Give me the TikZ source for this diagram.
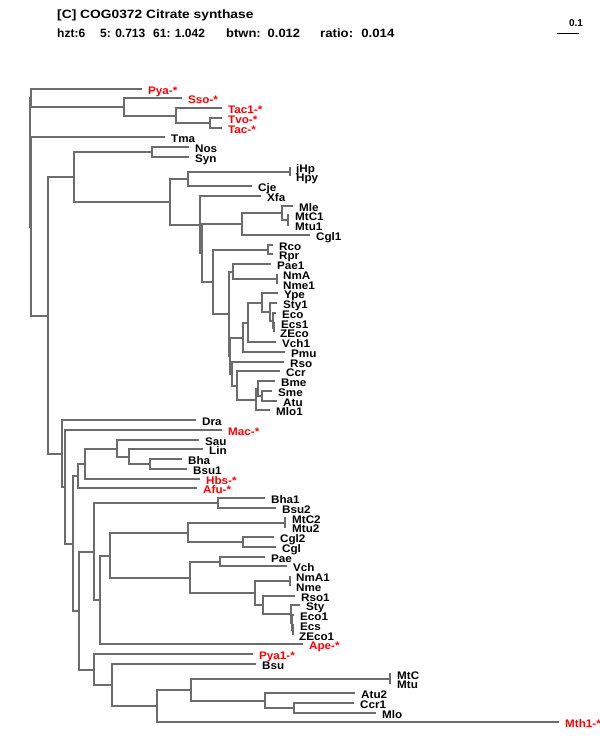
\documentclass[tikz,border=0pt]{standalone}
\usepackage{fontspec}
\usepackage{graphicx}
\setmainfont{Liberation Sans}
\usetikzlibrary{calc}
\definecolor{brc}{RGB}{108,108,108}
\definecolor{labred}{RGB}{255,0,0}
\tikzset{
  br/.style={draw=brc, line width=2pt},
  lab/.style={anchor=base west, inner sep=0pt, font=\fontsize{11}{11}\selectfont\bfseries},
  rlab/.style={lab, text=labred},
  ttl/.style={anchor=base west, inner sep=0pt, font=\fontsize{12}{12}\selectfont\bfseries},
}
\newcommand\lf[5]{%
  \coordinate (#1) at (#3, {round(-(88.7+9.75*#2))});
  \node[#5] (#1l) at ([xshift=6pt,yshift=-5.5pt]#1) {\scalebox{1.06}[1]{#4}};
}
\newcommand\inode[4]{%
  \path let \p1=(#3), \p2=(#4) in (#2, {round(0.5*\y1+0.5*\y2)}) coordinate (#1);
  \draw[br] (#3) -| (#1) |- (#4);
}
\begin{document}
\begin{tikzpicture}[x=1pt,y=1pt]
\fill[white] (0,0) rectangle (600,-750);
\useasboundingbox (0,0) rectangle (600,-750);
% header
\node[ttl] (title) at (57,-18.5) {\scalebox{1.15}[1]{[C] COG0372 Citrate synthase}};
\node[ttl] (stats) at (57,-37) {\makebox[43pt][l]{hzt:6}\makebox[53pt][l]{5: 0.713}\makebox[73pt][l]{61: 1.042}\makebox[94pt][l]{\scalebox{1.08}[1]{btwn:\hspace{2pt} 0.012}}\scalebox{1.1}[1]{ratio:\hspace{3pt} 0.014}};
\coordinate (sbA) at (557,-33);
\coordinate (sbB) at (579,-33);
\draw[black, line width=1pt] (sbA) -- (sbB);
\node[anchor=base, inner sep=0pt, font=\fontsize{10}{10}\selectfont\bfseries] (sbl) at (576,-26) {0.1};
% leaves
\lf{Pya}{0}{142}{Pya-*}{rlab}
\lf{Sso}{1}{182}{Sso-*}{rlab}
\lf{Tac1}{2}{222}{Tac1-*}{rlab}
\lf{Tvo}{3}{222}{Tvo-*}{rlab}
\lf{Tac}{4}{222}{Tac-*}{rlab}
\lf{Tma}{5}{165}{Tma}{lab}
\lf{Nos}{6}{189}{Nos}{lab}
\lf{Syn}{7}{189}{Syn}{lab}
\lf{jHp}{8}{290}{jHp}{lab}
\lf{Hpy}{9}{290}{Hpy}{lab}
\lf{Cje}{10}{252}{Cje}{lab}
\lf{Xfa}{11}{261}{Xfa}{lab}
\lf{Mle}{12}{293}{Mle}{lab}
\lf{MtC1}{13}{289}{MtC1}{lab}
\lf{Mtu1}{14}{289}{Mtu1}{lab}
\lf{Cgl1}{15}{310}{Cgl1}{lab}
\lf{Rco}{16}{273}{Rco}{lab}
\lf{Rpr}{17}{273}{Rpr}{lab}
\lf{Pae1}{18}{271}{Pae1}{lab}
\lf{NmA}{19}{277}{NmA}{lab}
\lf{Nme1}{20}{277}{Nme1}{lab}
\lf{Ype}{21}{278}{Ype}{lab}
\lf{Sty1}{22}{277}{Sty1}{lab}
\lf{Eco}{23}{276}{Eco}{lab}
\lf{Ecs1}{24}{275}{Ecs1}{lab}
\lf{ZEco}{25}{274}{ZEco}{lab}
\lf{Vch1}{26}{276}{Vch1}{lab}
\lf{Pmu}{27}{285}{Pmu}{lab}
\lf{Rso}{28}{284}{Rso}{lab}
\lf{Ccr}{29}{280}{Ccr}{lab}
\lf{Bme}{30}{275}{Bme}{lab}
\lf{Sme}{31}{272}{Sme}{lab}
\lf{Atu}{32}{277}{Atu}{lab}
\lf{Mlo1}{33}{270}{Mlo1}{lab}
\lf{Dra}{34}{196}{Dra}{lab}
\lf{Mac}{35}{222}{Mac-*}{rlab}
\lf{Sau}{36}{199}{Sau}{lab}
\lf{Lin}{37}{203}{Lin}{lab}
\lf{Bha}{38}{182}{Bha}{lab}
\lf{Bsu1}{39}{187}{Bsu1}{lab}
\lf{Hbs}{40}{200}{Hbs-*}{rlab}
\lf{Afu}{41}{197}{Afu-*}{rlab}
\lf{Bha1}{42}{265}{Bha1}{lab}
\lf{Bsu2}{43}{276}{Bsu2}{lab}
\lf{MtC2}{44}{286}{MtC2}{lab}
\lf{Mtu2}{45}{286}{Mtu2}{lab}
\lf{Cgl2}{46}{274}{Cgl2}{lab}
\lf{Cgl}{47}{276}{Cgl}{lab}
\lf{Pae}{48}{265}{Pae}{lab}
\lf{Vch}{49}{287}{Vch}{lab}
\lf{NmA1}{50}{290}{NmA1}{lab}
\lf{Nme}{51}{290}{Nme}{lab}
\lf{Rso1}{52}{295}{Rso1}{lab}
\lf{Sty}{53}{300}{Sty}{lab}
\lf{Eco1}{54}{294}{Eco1}{lab}
\lf{Ecs}{55}{294}{Ecs}{lab}
\lf{ZEco1}{56}{293}{ZEco1}{lab}
\lf{Ape}{57}{303}{Ape-*}{rlab}
\lf{Pya1}{58}{253}{Pya1-*}{rlab}
\lf{Bsu}{59}{256}{Bsu}{lab}
\lf{MtC}{60}{391}{MtC}{lab}
\lf{Mtu}{61}{391}{Mtu}{lab}
\lf{Atu2}{62}{355}{Atu2}{lab}
\lf{Ccr1}{63}{354}{Ccr1}{lab}
\lf{Mlo}{64}{376}{Mlo}{lab}
\lf{Mth1}{65}{559}{Mth1-*}{rlab}
% upper internal nodes
\inode{nTT}{210}{Tvo}{Tac}
\inode{nTA}{176}{Tac1}{nTT}
\inode{nSS}{124}{Sso}{nTA}
\inode{nP1}{31}{Pya}{nSS}
\inode{nNS}{152}{Nos}{Syn}
\inode{nJH}{290}{jHp}{Hpy}
\inode{n188}{188}{nJH}{Cje}
\inode{nMM2}{288}{MtC1}{Mtu1}
\inode{nMM}{282}{Mle}{nMM2}
\inode{nMC}{242}{nMM}{Cgl1}
\inode{nRR}{268}{Rco}{Rpr}
\inode{nNN}{277}{NmA}{Nme1}
\inode{nPN}{233}{Pae1}{nNN}
\inode{nEZ}{274}{Ecs1}{ZEco}
\inode{nE}{273}{Eco}{nEZ}
\inode{nS}{270}{Sty1}{nE}
\inode{nYS}{262}{Ype}{nS}
\inode{nYV}{248}{nYS}{Vch1}
\inode{nYP}{243}{nYV}{Pmu}
\inode{nSA}{262}{Sme}{Atu}
\inode{nAa}{258}{Bme}{nSA}
\inode{nAb}{256}{nAa}{Mlo1}
\inode{nCC}{237}{Ccr}{nAb}
\inode{nRS}{232}{Rso}{nCC}
\inode{nK}{230}{nYP}{nRS}
\inode{nG}{229}{nPN}{nK}
\inode{n213}{213}{nRR}{nG}
\inode{n201}{202}{nMC}{n213}
\inode{n200}{200}{Xfa}{n201}
\inode{n170}{170}{n188}{n200}
\inode{n74}{74}{nNS}{n170}
% lower internal nodes
\inode{n150}{150}{Bha}{Bsu1}
\inode{n129}{129}{Lin}{n150}
\inode{n117}{117}{Sau}{n129}
\inode{n85}{85}{n117}{Hbs}
\inode{n78}{78}{n85}{Afu}
\inode{nBB}{218}{Bha1}{Bsu2}
\inode{nMTb}{285}{MtC2}{Mtu2}
\inode{nCG}{243}{Cgl2}{Cgl}
\inode{n188a}{188}{nMTb}{nCG}
\inode{nPV}{220}{Pae}{Vch}
\inode{nNM}{290}{NmA1}{Nme}
\inode{nXc}{293}{Ecs}{ZEco1}
\inode{nXb}{292}{Eco1}{nXc}
\inode{nXa}{291}{Sty}{nXb}
\inode{nRb}{263}{Rso1}{nXa}
\inode{n255}{255}{nNM}{nRb}
\inode{n188b}{190}{nPV}{n255}
\inode{n110}{110}{n188a}{n188b}
\inode{n100}{100}{n110}{Ape}
\inode{n94}{94}{nBB}{n100}
\inode{nMT}{390}{MtC}{Mtu}
\inode{n294}{294}{Ccr1}{Mlo}
\inode{n264}{265}{Atu2}{n294}
\inode{n190}{191}{nMT}{n264}
\inode{n157}{157}{n190}{Mth1}
\inode{n111}{112}{Bsu}{n157}
\inode{n93}{94}{Pya1}{n111}
\inode{n79}{79}{n94}{n93}
\inode{n73}{73}{n78}{n79}
\inode{n65}{65}{Mac}{n73}
\inode{n62}{62}{Dra}{n65}
\inode{nBig}{48}{n74}{n62}
\inode{nRtwo}{31}{Tma}{nBig}
\inode{nRoot}{30}{nP1}{nRtwo}
\end{tikzpicture}
\end{document}
